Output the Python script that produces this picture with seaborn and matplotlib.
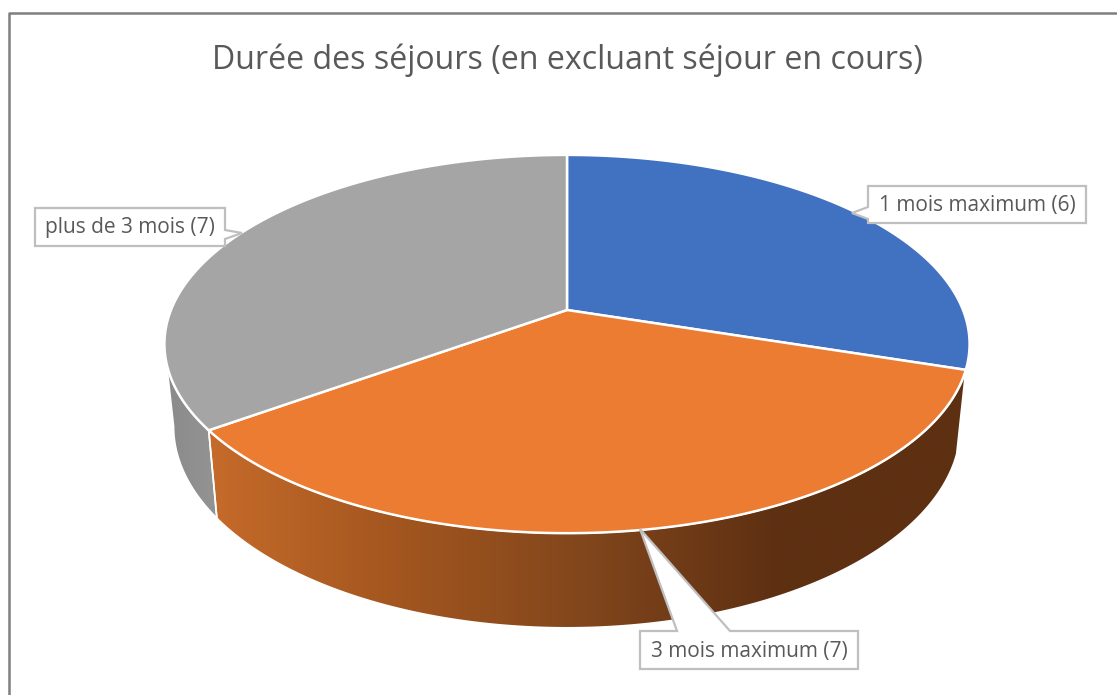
# Durée des séjours - 3D looking pie

import numpy as np
import matplotlib
matplotlib.use('Agg')
import matplotlib.pyplot as plt
from matplotlib.colors import LinearSegmentedColormap
from matplotlib.patches import Polygon
import seaborn as sns

# Data
title = 'Durée des séjours (en excluant séjour en cours)'
labels = ['1 mois maximum', '3 mois maximum', 'plus de 3 mois']
counts = [6, 7, 7]

slice_colors = ['#4171C1', '#EB7C31', '#A5A5A5']
orange_wall = ['#C66B2B', '#A3561F', '#81461C', '#5E3012', '#5E3012']
gray_wall = ['#8A8A8A', '#8F8F8F', '#949494']
text_color = '#595959'
box_color = '#BFBFBF'

sns.set_theme(style='white')
plt.rcParams['font.family'] = ['Open Sans', 'DejaVu Sans']

fig = plt.figure(figsize=(11.17, 6.95), dpi=100)
ax = fig.add_axes([0, 0, 1, 1])
palette = sns.color_palette(slice_colors)

tilt = 0.18


# circle of the pie -> screen, with a bit of perspective
def project(theta, a, b, yc):
    u, v = np.sin(theta), np.cos(theta)
    w = 1 + tilt * v
    return 567 + a * u / w, yc - b * v / w


def top_ring(theta):
    return project(theta, 396, 183, 310)


def low_ring(theta):
    return project(theta, 387, 195, 390)


shares = np.array(counts) / sum(counts)
edges = np.concatenate([[0], np.cumsum(shares)]) * 2 * np.pi
# angle where the disc outline turns away on the left
left_turn = 2 * np.pi - np.arccos(-tilt)


def wall(t0, t1):
    t = np.linspace(t0, t1, 200)
    x1, y1 = top_ring(t)
    x2, y2 = low_ring(t)
    return np.column_stack([np.r_[x1, x2[::-1]], np.r_[y1, y2[::-1]]])


def gradient_wall(t0, t1, stops, x0, x1):
    cmap = LinearSegmentedColormap.from_list('wall', stops)
    poly = Polygon(wall(t0, t1), closed=True, fc='none', ec='white', lw=1.2, zorder=3)
    ax.add_patch(poly)
    im = ax.imshow(np.linspace(0, 1, 256)[None, :], extent=[x0, x1, 695, 0], cmap=cmap,
                   aspect='auto', zorder=2)
    im.set_clip_path(poly)


# side walls first, the top covers whatever is behind
gradient_wall(edges[2], left_turn, gray_wall, 160, 220)
gradient_wall(edges[1], edges[2], orange_wall, 205, 967)

# top face
for i in range(len(counts)):
    t = np.linspace(edges[i], edges[i + 1], 200)
    x, y = top_ring(t)
    ax.fill(np.r_[567, x], np.r_[310, y], color=palette[i], ec='white', lw=1.8, zorder=4)


# label boxes with their pointer
def callout(text, pts, tx, ty):
    ax.add_patch(Polygon(pts, closed=True, fc='white', ec=box_color, lw=1.6, zorder=5,
                         joinstyle='miter'))
    ax.text(tx, ty, text, color=text_color, fontsize=15, ha='center', va='center', zorder=6)


callout(f'{labels[0]} ({counts[0]})',
        [(868, 186), (1086, 186), (1086, 223), (868, 223), (868, 219), (852, 213), (868, 207)],
        977, 206)
callout(f'{labels[1]} ({counts[1]})',
        [(640, 631), (677, 631), (640, 529), (730, 631), (858, 631), (858, 669), (640, 669)],
        749, 652)
callout(f'{labels[2]} ({counts[2]})',
        [(35, 208), (225, 208), (225, 230), (242, 233), (225, 239), (225, 246), (35, 246)],
        130, 228)

ax.text(567, 60, title, color=text_color, fontsize=23.1, ha='center', va='center')

# chart frame, only left and top fall inside the picture
ax.plot([8.5, 8.5, 1117], [695, 13, 13], color='#7F7F7F', lw=1.8, zorder=7)

ax.set_xlim(0, 1117)
ax.set_ylim(695, 0)
ax.axis('off')
fig.savefig('out.png', dpi=100, facecolor='white')
